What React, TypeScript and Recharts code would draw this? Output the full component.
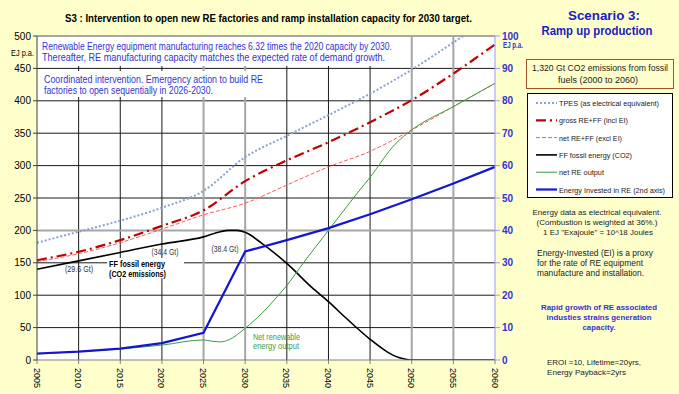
import React from "react";
import {
  LineChart,
  Line,
  XAxis,
  YAxis,
  CartesianGrid,
} from "recharts";

// ---- data ----
const YEAR_TICKS = [2005, 2010, 2015, 2020, 2025, 2030, 2035, 2040, 2045, 2050, 2055, 2060];
const LEFT_TICKS = [0, 50, 100, 150, 200, 250, 300, 350, 400, 450, 500];
const RIGHT_TICKS = [0, 10, 20, 30, 40, 50, 60, 70, 80, 90, 100];

const FIVE_YEARS = [2005, 2010, 2015, 2020, 2025, 2030, 2035, 2040, 2045, 2050, 2055, 2060];
const TPES = [181, 198, 215, 235, 261, 313, 346, 378, 411, 448, 490, 532];
const GROSS_RE_FF = [154, 167, 185, 207, 231, 276, 308, 336, 367, 401, 442, 487];
const NET_RE_FF = [152, 164, 181, 202, 224, 242, 270, 298, 322, 355, 391, 427];
const EI_RE = [2, 2.6, 3.5, 5.2, 8.4, 33.5, 37, 40.7, 45, 49.6, 54.5, 59.6];

const FF_YEARS = [2005, 2010, 2015, 2020, 2025, 2027, 2028, 2029, 2030, 2032, 2035, 2038, 2040, 2042, 2045, 2047, 2048, 2049, 2050, 2055, 2060];
const FF = [140, 153, 166, 179, 190, 198, 200, 200, 197, 180, 149, 112, 90, 66, 32, 13, 6, 2, 0, 0, 0];

const NET_RE_YEARS = [2005, 2010, 2015, 2020, 2025, 2026, 2027, 2028, 2030, 2032, 2034, 2035, 2037, 2040, 2043, 2045, 2048, 2050, 2055, 2060];
const NET_RE = [9, 13, 17, 23, 31, 29, 28, 31, 49, 72, 100, 115, 150, 200, 250, 282, 333, 355, 391, 427];

const GRID_BLACK_H = [50, 100, 150, 250, 300, 350, 400, 450];
const GRID_GRAY_H = [200, 500];
const GRID_BLACK_V = [2010, 2015, 2020, 2035, 2040, 2045];
const GRID_GRAY_V = [2025, 2030, 2050, 2055];

const pts = (years: number[], vals: number[]) =>
  years.map((year, i) => ({ year, v: vals[i] }));

const SERIES = [
  { name: "TPES (as electrical equivalent)", color: "#8C9FD2", dash: "2 2", width: 2, data: pts(FIVE_YEARS, TPES), axis: "left" },
  { name: "gross RE+FF  (incl EI)", color: "#C00000", dash: "10 4 2 4", width: 2.2, data: pts(FIVE_YEARS, GROSS_RE_FF), axis: "left" },
  { name: "net RE+FF  (excl EI)", color: "#FF5A5A", dash: "4 2", width: 1, data: pts(FIVE_YEARS, NET_RE_FF), axis: "left" },
  { name: "FF fossil energy (CO2)", color: "#000000", dash: undefined, width: 1.6, data: pts(FF_YEARS, FF), axis: "left" },
  { name: "net RE  output", color: "#3E9B3E", dash: undefined, width: 1, data: pts(NET_RE_YEARS, NET_RE), axis: "left" },
  { name: "Energy Invested in RE (2nd axis)", color: "#1414D2", dash: undefined, width: 2.2, data: pts(FIVE_YEARS, EI_RE), axis: "right" },
];
const LEGEND_W = [100, 69, 63, 73, 45, 106];

const FONT = "'Liberation Sans', Arial, sans-serif";
const BLUE = "#3333CC";

// shrink a font size so the text's natural width fits w
let measureCtx: CanvasRenderingContext2D | null = null;
function fitSize(text: string, size: number, w: number, bold: boolean) {
  if (!measureCtx) measureCtx = document.createElement("canvas").getContext("2d");
  if (!measureCtx) return size;
  measureCtx.font = `${bold ? "bold " : ""}${size}px "Liberation Sans"`;
  const natural = measureCtx.measureText(text).width;
  return natural > w ? (size * w) / natural : size;
}

function XTick({ x, y, payload }: any) {
  return (
    <text
      transform={`translate(${x - 3.5},${y + 2}) rotate(90)`}
      fontSize={9}
      fontFamily={FONT}
      fill="#000"
      textAnchor="start"
    >
      {payload.value}
    </text>
  );
}

// text helper, squeezed to the width seen in the picture
function T({ x, y, w, size = 9.5, anchor = "start", bold = false, fill = "#222", fit = false, children }: any) {
  const fs = fit ? fitSize(String(children), size, w, bold) : size;
  return (
    <text
      x={x}
      y={y}
      fontSize={fs}
      fontFamily={FONT}
      fontWeight={bold ? "bold" : "normal"}
      fill={fill}
      textAnchor={anchor}
      textLength={w}
      lengthAdjust="spacingAndGlyphs"
    >
      {children}
    </text>
  );
}

export default function App() {
  return (
    <div
      style={{
        position: "absolute",
        left: 0,
        top: 0,
        width: 679,
        height: 394,
        background: "#FFFFCC",
        fontFamily: FONT,
      }}
    >
      <LineChart
        width={679}
        height={394}
        margin={{ top: 36, right: 144, bottom: 4, left: 0 }}
      >
        <CartesianGrid
          yAxisId="left"
          fill="#ffffff"
          stroke="#1a1a1a"
          horizontalValues={GRID_BLACK_H}
          verticalValues={GRID_BLACK_V}
        />
        <CartesianGrid
          yAxisId="left"
          stroke="#A6A6A6"
          strokeWidth={2}
          horizontalValues={GRID_GRAY_H}
          verticalValues={GRID_GRAY_V}
        />
        <XAxis
          dataKey="year"
          type="number"
          domain={[2005, 2060]}
          ticks={YEAR_TICKS}
          interval={0}
          height={30}
          stroke="#808080"
          tickSize={4}
          tick={<XTick />}
          allowDuplicatedCategory={false}
        />
        <YAxis
          yAxisId="left"
          domain={[0, 500]}
          ticks={LEFT_TICKS}
          allowDataOverflow
          width={37}
          stroke="#404040"
          tickSize={4}
          tick={{ fontSize: 10, fill: "#000", fontFamily: FONT }}
        />
        <YAxis
          yAxisId="right"
          orientation="right"
          domain={[0, 100]}
          ticks={RIGHT_TICKS}
          width={40}
          stroke="#9999FF"
          tickSize={5}
          tick={{ fontSize: 10, fill: BLUE, fontWeight: "bold", fontFamily: FONT }}
        />
        {SERIES.map((s) => (
          <Line
            key={s.name}
            yAxisId={s.axis}
            data={s.data}
            dataKey="v"
            type={s.axis === "right" ? "linear" : "monotone"}
            stroke={s.color}
            strokeWidth={s.width}
            strokeDasharray={s.dash}
            dot={false}
            isAnimationActive={false}
          />
        ))}
      </LineChart>

      <svg
        width={679}
        height={394}
        style={{ position: "absolute", left: 0, top: 0, pointerEvents: "none" }}
      >
        {/* titles */}
        <T x={65} y={22} w={407} size={11} bold fill="#000">
          S3 : Intervention to open new RE factories and ramp installation capacity for 2030 target.
        </T>
        <T x={604} y={20} w={72} size={13} bold anchor="middle" fill="#2020C0">Scenario 3:</T>
        <T x={597} y={35} w={111} size={13} bold anchor="middle" fill="#2020C0">Ramp up production</T>

        {/* axis units */}
        <T x={11} y={56} w={23} size={9} fill="#000">EJ p.a.</T>
        <T x={503} y={48} w={20} size={9} bold fill={BLUE}>EJ p.a.</T>

        {/* notes in the plot */}
        <rect x={38} y={37} width={362} height={29} fill="#fff" />
        <T x={42} y={50} w={350} size={10} fill={BLUE}>
          Renewable Energy equipment manufacturing reaches 6.32 times the 2020 capacity by 2030.
        </T>
        <T x={42} y={61} w={343} size={10} fill={BLUE}>
          Thereafter, RE manufacturing capacity matches the expected rate of demand growth.
        </T>
        <rect x={38} y={71} width={228} height={26} fill="#fff" />
        <T x={44} y={83} w={219} size={10} fill={BLUE}>
          Coordinated intervention. Emergency action to build RE
        </T>
        <T x={44} y={94} w={169} size={10} fill={BLUE}>
          factories to open sequentially in 2026-2030.
        </T>

        <T x={79} y={272} w={28} size={8.5} anchor="middle" fill="#333">(29.6 Gt)</T>
        <T x={165} y={255} w={27} size={8.5} anchor="middle" fill="#333">(34.4 Gt)</T>
        <T x={225} y={252} w={27} size={8.5} anchor="middle" fill="#333">(38.4 Gt)</T>
        <rect x={107} y={258} width={77} height={20} fill="#fff" />
        <T x={109} y={267} w={56} size={9.5} bold fill="#000">FF fossil energy</T>
        <T x={109} y={277} w={57} size={9.5} bold fill="#000">(CO2 emissions)</T>
        <T x={253} y={340} w={47} size={9} fill="#3E9B3E">Net renewable</T>
        <T x={253} y={349} w={46} size={9} fill="#3E9B3E">energy output</T>

        {/* side panel */}
        <rect x={526.5} y={59.5} width={147} height={29} fill="none" stroke="#A0522D" />
        <T x={600} y={71} w={136} size={10} anchor="middle" fill="#222" fit>
          1,320 Gt CO2 emissions from fossil
        </T>
        <T x={598} y={83} w={80} size={10} anchor="middle" fill="#222" fit>fuels (2000 to 2060)</T>

        <rect x={527.5} y={93.5} width={145} height={104} fill="#fff" stroke="#000" />
        {SERIES.map((s, i) => {
          const y = 103 + i * 17.3;
          return (
            <g key={s.name}>
              <line
                x1={536}
                x2={557}
                y1={y}
                y2={y}
                stroke={s.color}
                strokeWidth={s.width}
                strokeDasharray={s.dash}
              />
              <T x={559} y={y + 3} w={LEGEND_W[i]} size={9} fit>
                {s.name}
              </T>
            </g>
          );
        })}

        <T x={597} y={215} w={129} anchor="middle" fit>Energy data as electrical equivalent.</T>
        <T x={597} y={225} w={121} anchor="middle" fit>(Combustion is weighted at 36%.)</T>
        <T x={598} y={235} w={110} anchor="middle" fit>1 EJ "Exajoule" = 10^18 Joules</T>
        <T x={537} y={256} w={116} fit>Energy-Invested (EI) is a proxy</T>
        <T x={537} y={266} w={106} fit>for the rate of RE equipment</T>
        <T x={537} y={276} w={107} fit>manufacture and installation.</T>

        <T x={599} y={310} w={116} anchor="middle" bold fill={BLUE} fit>Rapid growth of RE associated</T>
        <T x={599} y={320} w={105} anchor="middle" bold fill={BLUE} fit>industies strains generation</T>
        <T x={599} y={330} w={33} anchor="middle" bold fill={BLUE} fit>capacity.</T>

        <T x={547} y={365} w={94} fit>EROI =10, Lifetime=20yrs,</T>
        <T x={547} y={375} w={79} fit>Energy Payback=2yrs</T>
      </svg>
    </div>
  );
}
